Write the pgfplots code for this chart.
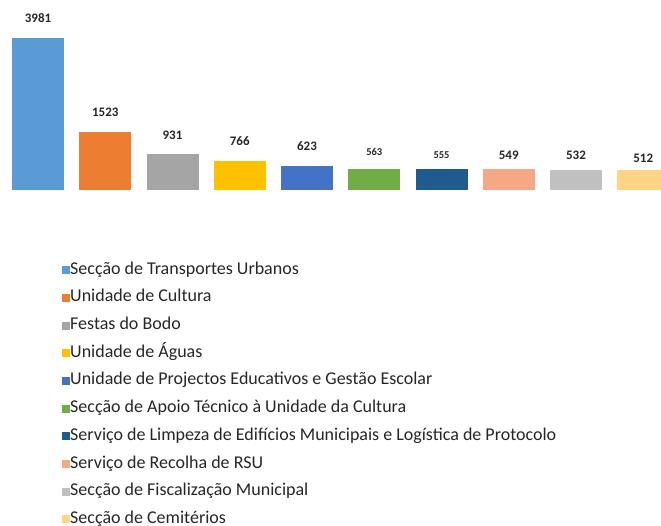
\documentclass[border=0pt]{standalone}
\usepackage{fontspec}
\setmainfont{Carlito}
\usepackage{pgfplots}
\pgfplotsset{compat=1.18}

\definecolor{c1}{HTML}{5B9BD5}
\definecolor{c2}{HTML}{ED7D31}
\definecolor{c3}{HTML}{A5A5A5}
\definecolor{c4}{HTML}{FFC000}
\definecolor{c5}{HTML}{4472C4}
\definecolor{c6}{HTML}{70AD47}
\definecolor{c7}{HTML}{215A8C}
\definecolor{c8}{HTML}{F4A886}
\definecolor{c9}{HTML}{C0C0C0}
\definecolor{c10}{HTML}{FFD584}

\begin{document}
\begin{tikzpicture}
\path[use as bounding box] (0,0) rectangle (661bp,526bp);
\clip (0,0) rectangle (661bp,526bp);
\begin{axis}[
    at={(4.375bp,336bp)}, anchor=south west,
    scale only axis,
    x=67.25bp, y=0.03818bp,
    xmin=-0.5, xmax=9.5,
    ymin=0, ymax=4200,
    hide axis,
    ybar, bar width=52bp, bar shift=0pt,
    nodes near coords={\pgfmathprintnumber[1000 sep={},assume math mode=true]{\pgfplotspointmeta}},
    every node near coord/.style={font=\bfseries\fontsize{13bp}{15bp}\selectfont,
        anchor=center, text=black!85},
    legend image code/.code={\fill[#1,draw=none] (0bp,-4bp) rectangle (8bp,4bp);},
    legend cell align=left,
    legend style={draw=none, fill=none, at={(0.0857,-0.449)}, anchor=north west,
        font=\fontsize{18bp}{20bp}\selectfont, text=black!85,
        inner sep=0pt, row sep=11.7bp,
        nodes={inner sep=0pt, text height=12bp, text depth=4bp},
        /tikz/every even column/.append style={column sep=5bp}},
]
\addplot[fill=c1, draw=none, nodes near coords style={yshift=20bp}] coordinates {(0,3981)};
\addlegendentry{Secção de Transportes Urbanos}
\addplot[fill=c2, draw=none, nodes near coords style={yshift=20bp}] coordinates {(1,1523)};
\addlegendentry{Unidade de Cultura}
\addplot[fill=c3, draw=none, nodes near coords style={yshift=19bp}] coordinates {(2,931)};
\addlegendentry{Festas do Bodo}
\addplot[fill=c4, draw=none, nodes near coords style={yshift=20bp}] coordinates {(3,766)};
\addlegendentry{Unidade de Águas}
\addplot[fill=c5, draw=none, nodes near coords style={yshift=20bp}] coordinates {(4,623)};
\addlegendentry{Unidade de Projectos Educativos e Gestão Escolar}
\addplot[fill=c6, draw=none, nodes near coords style={yshift=17bp, font=\bfseries\fontsize{10.5bp}{12bp}\selectfont}] coordinates {(5,563)};
\addlegendentry{Secção de Apoio Técnico à Unidade da Cultura}
\addplot[fill=c7, draw=none, nodes near coords style={yshift=14bp, font=\bfseries\fontsize{10.5bp}{12bp}\selectfont}] coordinates {(6,555)};
\addlegendentry{Serviço de Limpeza de Edifícios Municipais e Logística de Protocolo}
\addplot[fill=c8, draw=none, nodes near coords style={yshift=14bp}] coordinates {(7,549)};
\addlegendentry{Serviço de Recolha de RSU}
\addplot[fill=c9, draw=none, nodes near coords style={yshift=14bp}] coordinates {(8,532)};
\addlegendentry{Secção de Fiscalização Municipal}
\addplot[fill=c10, draw=none, nodes near coords style={yshift=12bp}] coordinates {(9,512)};
\addlegendentry{Secção de Cemitérios}
\end{axis}
\end{tikzpicture}
\end{document}
